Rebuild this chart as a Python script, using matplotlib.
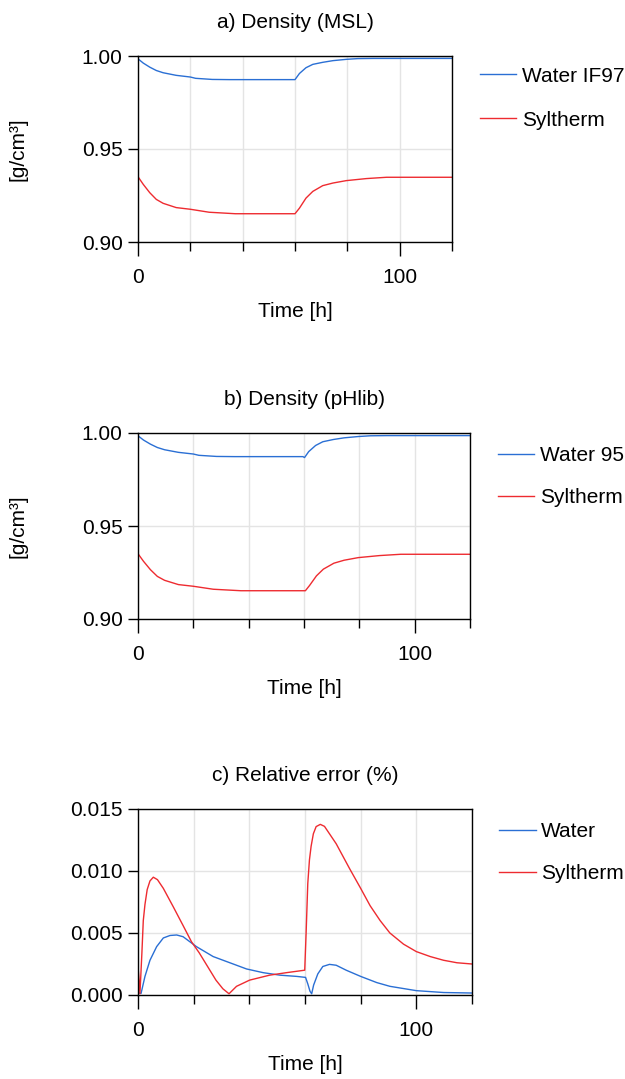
import numpy as np
import matplotlib
matplotlib.use("Agg")
import matplotlib.pyplot as plt
from matplotlib.ticker import MultipleLocator, FixedLocator, FormatStrFormatter

plt.rcParams['font.family'] = ['Liberation Sans', 'DejaVu Sans']
plt.rcParams['font.size'] = 15

BLUE = '#2a6fd4'
RED = '#ee2b30'

# a) Density (MSL)
t_a_water = [0, 2, 4.5, 7, 9.6, 14.6, 20, 22, 28.4, 35, 60, 61.7, 64.2, 66.8, 70.6, 74.5, 79.6, 84, 90, 120]
a_water = [0.9985, 0.9962, 0.9940, 0.9922, 0.9910, 0.9896, 0.9887, 0.9880, 0.9874, 0.9873, 0.9873,
           0.9906, 0.9937, 0.9955, 0.9966, 0.9975, 0.9982, 0.9986, 0.9987, 0.9987]
t_a_syl = [0, 2, 4.5, 7, 9.6, 14.6, 20, 27.2, 37.2, 60, 61.7, 64.2, 66.8, 70.6, 74.5, 79.6, 87.3, 95, 120]
a_syl = [0.9351, 0.9310, 0.9265, 0.9229, 0.9208, 0.9185, 0.9176, 0.9160, 0.9152, 0.9152,
         0.9182, 0.9236, 0.9272, 0.9303, 0.9317, 0.9330, 0.9341, 0.9348, 0.9348]

# b) Density (pHlib)
t_b_water = [0, 2, 4.5, 7, 9.6, 14.6, 20, 22, 28.4, 35, 59.6, 60.2, 61.7, 64.2, 66.8, 70.6, 74.5,
             79.6, 84, 90, 120]
b_water = [0.9985, 0.9962, 0.9940, 0.9922, 0.9910, 0.9896, 0.9887, 0.9880, 0.9874, 0.9873, 0.9873,
           0.9868, 0.9900, 0.9933, 0.9953, 0.9965, 0.9974, 0.9981, 0.9985, 0.9986, 0.9986]
t_b_syl = [0, 2, 4.5, 7, 9.6, 14.6, 20, 27.2, 37.2, 60.5, 62, 64.5, 67, 70.8, 74.5, 79.6, 87.3, 95, 120]
b_syl = [0.9351, 0.9310, 0.9265, 0.9229, 0.9208, 0.9185, 0.9176, 0.9160, 0.9152, 0.9152,
         0.9180, 0.9232, 0.9268, 0.9300, 0.9316, 0.9330, 0.9341, 0.9348, 0.9348]

# c) Relative error (%)
t_c_water = [0, 1.1, 2.5, 4.3, 6.7, 9.1, 11.5, 13.9, 16.2, 21, 27, 33, 39, 45, 51, 57, 60.2,
             61, 61.8, 62.4, 63.1, 64.6, 66.4, 68.8, 71.2, 74.8, 80, 85.8, 90.5, 100, 109.8, 120]
c_water = [0.0002, 0.00013, 0.0015, 0.0028, 0.0039, 0.0046, 0.0048, 0.00484, 0.0047, 0.0039,
           0.0031, 0.0026, 0.0021, 0.0018, 0.0016, 0.0015, 0.00142, 0.0009, 0.0003, 0.0001,
           0.0008, 0.0017, 0.0023, 0.00247, 0.0024, 0.0020, 0.0015, 0.0010, 0.0007, 0.00035,
           0.0002, 0.00016]
t_c_syl = [0, 0.4, 0.7, 1.4, 1.9, 2.5, 3.3, 4.3, 5.5, 7.0, 9.1, 12.7, 16.2, 19.2, 22, 25, 28,
           30.5, 32.7, 35.4, 40.1, 47.3, 53.3, 59.9, 60.4, 61, 61.6, 62.2, 63, 64, 65.5, 67,
           68.8, 71.2, 73.6, 76, 80, 83.4, 87, 90.5, 95.4, 100, 105, 109.8, 114.6, 120]
c_syl = [0.00227, 0.0012, 0.0001, 0.0034, 0.0060, 0.0073, 0.0085, 0.0092, 0.0095, 0.0093,
         0.0086, 0.0071, 0.0056, 0.0043, 0.0034, 0.0023, 0.0012, 0.0005, 0.0001, 0.0007,
         0.0012, 0.0016, 0.0018, 0.0020, 0.0050, 0.0090, 0.0109, 0.0120, 0.0130, 0.01358,
         0.01376, 0.0136, 0.0130, 0.0122, 0.0112, 0.0102, 0.0086, 0.0072, 0.0060, 0.0050,
         0.0041, 0.0035, 0.0031, 0.0028, 0.0026, 0.0025]

fig = plt.figure(figsize=(6.25, 10.79), dpi=100)

panels = [
    dict(rect=[138/625, 1-242/1079, 314/625, 186/1079], title='a) Density (MSL)',
         series=[(t_a_water, a_water, BLUE, 'Water IF97'), (t_a_syl, a_syl, RED, 'Syltherm')],
         ylim=(0.90, 1.00), ystep=0.05, fmt='%.2f', ylabel='[g/cm³]', leg=(1.089, 0.943), sp=1.2),
    dict(rect=[138/625, 1-619/1079, 332/625, 186/1079], title='b) Density (pHlib)',
         series=[(t_b_water, b_water, BLUE, 'Water 95'), (t_b_syl, b_syl, RED, 'Syltherm')],
         ylim=(0.90, 1.00), ystep=0.05, fmt='%.2f', ylabel='[g/cm³]', leg=(1.084, 0.928), sp=1.1),
    dict(rect=[138/625, 1-995/1079, 334/625, 186/1079], title='c) Relative error (%)',
         series=[(t_c_water, c_water, BLUE, 'Water'), (t_c_syl, c_syl, RED, 'Syltherm')],
         ylim=(0.0, 0.015), ystep=0.005, fmt='%.3f', ylabel=None, leg=(1.081, 0.928), sp=1.1),
]

for p in panels:
    ax = fig.add_axes(p['rect'])
    for t, v, c, lab in p['series']:
        ax.plot(t, v, color=c, lw=1.0, label=lab)
    ax.set_xlim(0, 120)
    ax.set_ylim(*p['ylim'])
    ax.xaxis.set_major_locator(FixedLocator([0, 100]))
    ax.xaxis.set_minor_locator(FixedLocator([20, 40, 60, 80, 120]))
    ax.yaxis.set_major_locator(MultipleLocator(p['ystep']))
    ax.yaxis.set_major_formatter(FormatStrFormatter(p['fmt']))
    ax.tick_params(axis='x', which='major', length=10, width=1, pad=9, direction='out')
    ax.tick_params(axis='x', which='minor', length=6.5, width=1, direction='out')
    ax.tick_params(axis='y', which='major', length=7, width=1, pad=4, direction='out')
    ax.grid(True, which='both', color='#e4e4e4', lw=1)
    ax.set_axisbelow(True)
    for s in ax.spines.values():
        s.set_linewidth(1)
        s.set_color('black')
    ax.set_title(p['title'], pad=20, fontsize=15)
    ax.set_xlabel('Time [h]')
    ax.xaxis.set_label_coords(0.5, -0.376)
    ax.xaxis.label.set_va('center')
    if p['ylabel']:
        ax.set_ylabel(p['ylabel'])
        ax.yaxis.set_label_coords(-120/(p['rect'][2]*625), 0.5)
        ax.yaxis.label.set_va('center')
    ax.legend(loc='upper left', bbox_to_anchor=p['leg'], frameon=False, borderaxespad=0,
              borderpad=0, handlelength=1.75, handletextpad=0.25, labelspacing=p['sp'])

fig.savefig('out.png', dpi=100)
